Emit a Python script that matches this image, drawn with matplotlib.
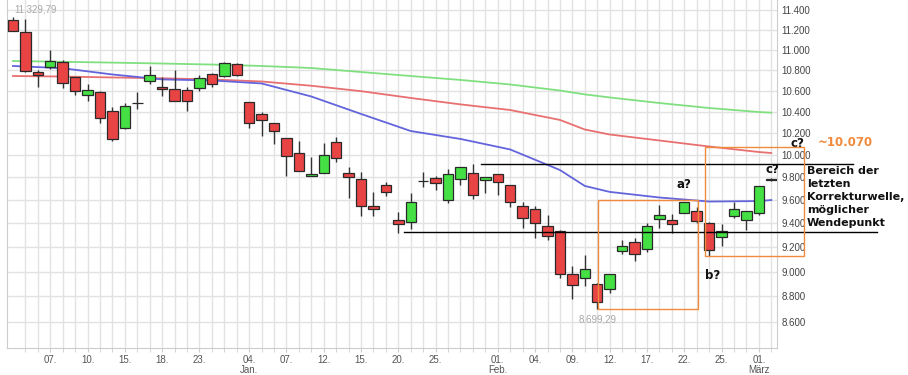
import numpy as np
import pandas as pd
import matplotlib
matplotlib.use("Agg")
import matplotlib.pyplot as plt
from matplotlib.patches import Rectangle
from matplotlib.ticker import NullLocator

# DAX daily candles, 02.12.2015 - 02.03.2016 (Xetra trading days)
days = pd.bdate_range("2015-12-02", "2016-03-02")
days = days[~days.isin(pd.to_datetime(["2015-12-24", "2015-12-25", "2015-12-31", "2016-01-01"]))]

opens = [11298, 11175, 10777, 10831, 10880, 10728, 10555, 10583, 10408, 10245,
         10480, 10692, 10637, 10612, 10605, 10624, 10757, 10743, 10861, 10488,
         10375, 10291, 10151, 10021, 9815, 9842, 10118, 9842, 9786, 9552,
         9730, 9432, 9409, 9771, 9792, 9601, 9786, 9836, 9777, 9827,
         9733, 9549, 9523, 9378, 9336, 8982, 8947, 8897, 8861, 9169,
         9246, 9184, 9435, 9426, 9487, 9509, 9406, 9283, 9466, 9429,
         9487, 9785]
highs = [11329.79, 11310, 10800, 10996, 10897, 10732, 10663, 10598, 10443, 10484,
         10583, 10838, 10734, 10799, 10631, 10747, 10773, 10878, 10868, 10491,
         10394, 10294, 10155, 10130, 9985, 10106, 10167, 9889, 9845, 9669,
         9762, 9498, 9660, 9848, 9812, 9870, 9892, 9919, 9803, 9830,
         9735, 9586, 9552, 9472, 9344, 9048, 9136, 8907, 8980, 9260,
         9279, 9404, 9558, 9481, 9584, 9543, 9415, 9395, 9581, 9510,
         9727, 9792]
lows = [11185, 10775, 10637, 10806, 10624, 10555, 10503, 10297, 10125, 10241,
        10424, 10660, 10548, 10498, 10403, 10598, 10631, 10734, 10745, 10248,
        10174, 10100, 9815, 9855, 9812, 9840, 9934, 9618, 9463, 9463,
        9636, 9322, 9355, 9718, 9689, 9573, 9733, 9607, 9660, 9643,
        9543, 9358, 9274, 9260, 8950, 8779, 8885, 8699.29, 8825, 9142,
        9087, 9163, 9358, 9322, 9485, 9401, 9130, 9210, 9444, 9344,
        9472, 9772]
closes = [11190, 10785, 10753, 10887, 10676, 10598, 10605, 10343, 10143, 10450,
          10478, 10747, 10612, 10503, 10498, 10724, 10660, 10868, 10750, 10291,
          10319, 10217, 9988, 9859, 9832, 9997, 9970, 9801, 9549, 9526,
          9669, 9397, 9581, 9768, 9748, 9826, 9889, 9643, 9801, 9762,
          9586, 9444, 9401, 9291, 8982, 8891, 9020, 8759, 8977, 9213,
          9142, 9380, 9472, 9395, 9581, 9423, 9177, 9333, 9521, 9506,
          9724, 9778]

# moving averages, read at these candle numbers
ma_days = [0, 4, 8, 12, 16, 20, 24, 28, 32, 36, 40, 44, 46, 48, 52, 56, 60, 61]
ma_short = [10838, 10816, 10755, 10707, 10697, 10668, 10543, 10378, 10219, 10146,
            10050, 9865, 9724, 9672, 9623, 9588, 9592, 9601]
ma_mid = [10740, 10735, 10726, 10718, 10707, 10687, 10646, 10594, 10529, 10468,
          10415, 10322, 10233, 10187, 10132, 10077, 10027, 10018]
ma_long = [10887, 10879, 10871, 10862, 10852, 10838, 10818, 10779, 10740, 10702,
           10658, 10600, 10563, 10534, 10481, 10434, 10396, 10390]

tick_dates = ["2015-12-07", "2015-12-10", "2015-12-15", "2015-12-18", "2015-12-23",
              "2016-01-04", "2016-01-07", "2016-01-12", "2016-01-15", "2016-01-20",
              "2016-01-25", "2016-02-01", "2016-02-04", "2016-02-09", "2016-02-12",
              "2016-02-17", "2016-02-22", "2016-02-25", "2016-03-01"]
month_names = {1: "Jan.", 2: "Feb.", 3: "März"}
y_ticks = list(range(8600, 11401, 200))

resistance = 9916
support = 9330

fig = plt.figure(figsize=(9.08, 3.75), dpi=100)
ax = fig.add_axes([7 / 908, 27 / 375, 770 / 908, 348 / 375])
ax.set_yscale("log")

x = np.arange(len(days))
o = np.array(opens)
c = np.array(closes)

ax.plot(ma_days, ma_long, color="#80e080", lw=1.3, zorder=2)
ax.plot(ma_days, ma_mid, color="#e87070", lw=1.3, zorder=2)
ax.plot(ma_days, ma_short, color="#6464dc", lw=1.3, zorder=2)

ax.vlines(x, lows, highs, color="#333333", lw=1, zorder=3)
fills = np.where(c >= o, "#44e044", "#e84444")
ax.bar(x, np.abs(c - o), bottom=np.minimum(o, c), width=0.84, color=fills,
       edgecolor="#2a2a2a", linewidth=0.9, zorder=4)

ax.set_xlim(-0.48, 61.46)
ax.set_ylim(8399, 11504)

# axes, grid
ax.set_yticks(y_ticks)
ax.set_yticklabels([f"{v:,}".replace(",", ".") for v in y_ticks])
ax.yaxis.set_minor_locator(NullLocator())
ax.yaxis.tick_right()

tick_pos = [days.get_loc(pd.Timestamp(d)) for d in tick_dates]
labels = []
prev_month = None
for d in pd.to_datetime(tick_dates):
    lab = f"{d.day:02d}."
    if prev_month is not None and d.month != prev_month:
        lab += "\n" + month_names[d.month]
    prev_month = d.month
    labels.append(lab)
ax.set_xticks(tick_pos)
ax.set_xticklabels(labels, fontfamily="Liberation Sans", linespacing=1.0)
ax.set_xticks(range(1, len(days)), minor=True)

ax.grid(True, which="both", axis="x", color="#e2e2e2", lw=1)
ax.grid(True, which="major", axis="y", color="#e2e2e2", lw=1)
ax.set_axisbelow(True)
for s in ["left", "bottom", "right"]:
    ax.spines[s].set_color("#cccccc")
ax.spines["top"].set_visible(False)
ax.tick_params(axis="x", which="both", length=3, color="#cccccc", labelsize=7,
               labelcolor="#555555", pad=2)
ax.tick_params(axis="y", length=0, labelsize=7, labelcolor="#444444", pad=3)
for t in ax.get_yticklabels():
    t.set_fontfamily("Liberation Sans")

# annotations
gray = "#a8a8a8"
orange = "#f08a3c"
ax.text(0.08, 11410, "11.329,79", color=gray, fontsize=7, family="Liberation Sans",
        ha="left", va="center")
ax.text(47.0, 8622, "8.699,29", color=gray, fontsize=7, family="Liberation Sans",
        ha="center", va="center")

ax.plot([37.65, 67.6], [resistance, resistance], color="black", lw=1, clip_on=False, zorder=5)
ax.plot([31.45, 69.5], [support, support], color="black", lw=1, clip_on=False, zorder=5)

ax.add_patch(Rectangle((47.04, 8700), 55.13 - 47.04, 9601 - 8700, fill=False,
                       edgecolor=orange, lw=1, clip_on=False, zorder=5))
ax.add_patch(Rectangle((55.63, 9124), 63.66 - 55.63, 10071 - 9124, fill=False,
                       edgecolor=orange, lw=1, clip_on=False, zorder=5))

bold = dict(fontsize=8.5, fontweight="bold", family="DejaVu Sans", color="#111111",
            ha="center", va="center")
ax.text(54.0, 9733, "a?", **bold)
ax.text(56.3, 8971, "b?", **bold)
ax.text(61.1, 9870, "c?", **bold)
ax.text(63.1, 10100, "c?", **bold)
ax.text(64.76, 10118, "~10.070", fontsize=8.5, fontweight="bold", family="DejaVu Sans",
        color=orange, ha="left", va="center")
ax.text(63.85, 9627, "Bereich der\nletzten\nKorrekturwelle,\nmöglicher\nWendepunkt",
        fontsize=8, fontweight="bold", family="DejaVu Sans", color="#111111",
        ha="left", va="center", linespacing=1.38)

fig.savefig("out.png", dpi=100)
